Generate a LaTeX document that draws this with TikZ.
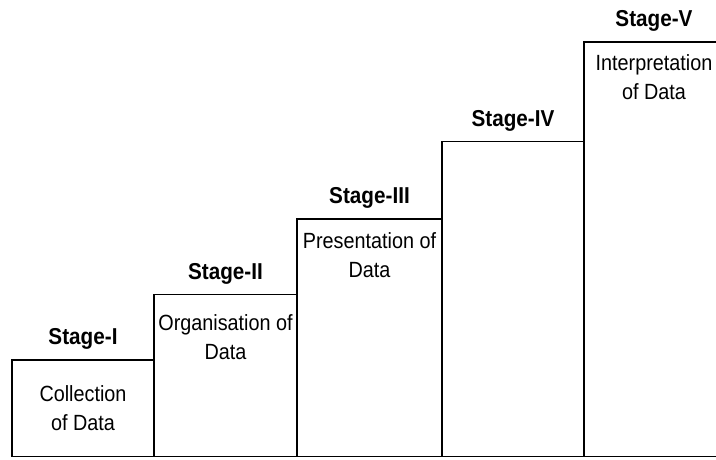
\documentclass[tikz,border=0pt]{standalone}
\usepackage{fontspec}
\setmainfont{Liberation Sans}[FakeStretch=0.9]
\usetikzlibrary{positioning}
\tikzset{
  % trappsteg
  stepline/.style={draw=black,line width=1.6pt},
  stepbox/.style={stepline,inner sep=0pt,outer sep=0pt,anchor=south west},
  steplbl/.style={font=\fontsize{23}{26}\selectfont\bfseries,inner sep=0pt},
  steptxt/.style={font=\fontsize{22}{29}\selectfont,align=center,inner sep=0pt},
}

\begin{document}
\begin{tikzpicture}[x=1pt,y=1pt]
  \useasboundingbox (0,0) rectangle (716,459);
  \coordinate (rim) at (716,0);
  % lådorna
  \node[stepbox,minimum width=142pt,minimum height=96.5pt] (s1) at (12,2.5) {};
  \node[stepbox,minimum width=143pt,minimum height=162pt] (s2) at (s1.south east) {};
  \node[stepbox,minimum width=145pt,minimum height=237.5pt] (s3) at (s2.south east) {};
  \node[stepbox,minimum width=142pt,minimum height=315pt] (s4) at (s3.south east) {};
  \node[stepbox,draw=none,minimum width=140pt,minimum height=414.5pt] (s5) at (s4.south east) {};
  \draw[stepline] (s5.north west -| rim) -- (s5.north west) -- (s5.south west) -- (s5.south west -| rim);
  % rubriker
  \node[steplbl,above=10pt of s1] (l1) {Stage-I};
  \node[steplbl,above=10pt of s2] (l2) {Stage-II};
  \node[steplbl,above=10pt of s3] (l3) {Stage-III};
  \node[steplbl,above=10pt of s4] (l4) {Stage-IV};
  \node[steplbl,above=10pt of s5] (l5) {Stage-V};
  % texter
  \node[steptxt] (t1) at (s1.center) {Collection\\of Data};
  \node[steptxt,below=20pt of s2.north] (t2) {Organisation of\\Data};
  \node[steptxt,below=13pt of s3.north] (t3) {Presentation of\\Data};
  \node[steptxt,below=12pt of s5.north] (t5) {Interpretation\\of Data};
\end{tikzpicture}
\end{document}
